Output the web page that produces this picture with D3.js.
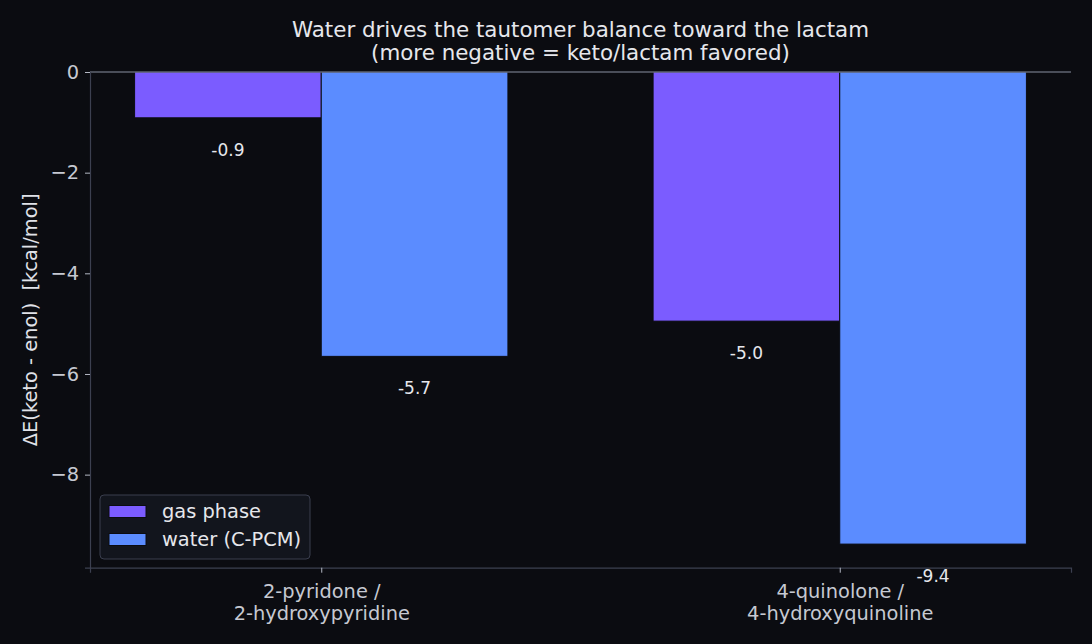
<!DOCTYPE html>
<html>
<head>
<meta charset="utf-8">
<script src="https://cdn.jsdelivr.net/npm/d3@7"></script>
<style>
  html, body { margin: 0; padding: 0; background: #0b0c11; }
  text { font-family: "DejaVu Sans", sans-serif; }
</style>
</head>
<body>
<div id="chart"></div>
<script>
// data
var categories = ["2-pyridone /\n2-hydroxypyridine", "4-quinolone /\n4-hydroxyquinoline"];
var seriesNames = ["gas phase", "water (C-PCM)"];
var gasValues = [-0.91, -4.95];
var waterValues = [-5.65, -9.38];
var yTicks = [0, -2, -4, -6, -8];

var chartWidth = 1092, chartHeight = 644;
var plotLeft = 90, plotRight = 1071, plotTop = 72, plotBottom = 567.7;
var barWidth = 0.36;
var colours = ["#7b5cff", "#5b8cff"];
var bg = "#0b0c11";

var rows = [];
categories.forEach(function(c, i) {
    rows.push({cat: i, series: 0, value: gasValues[i]});
    rows.push({cat: i, series: 1, value: waterValues[i]});
});

// scales
var xmin = -barWidth, xmax = categories.length - 1 + barWidth;
var xpad = (xmax - xmin) * 0.05;
var x_scale = d3.scaleLinear()
    .domain([xmin - xpad, xmax + xpad])
    .range([plotLeft, plotRight]);
var ymin = d3.min(rows, function(d) { return d.value; });
var y_scale = d3.scaleLinear()
    .domain([ymin * 1.05, 0])
    .range([plotBottom, plotTop]);

var svg = d3.select("#chart").append("svg")
    .attr("width", chartWidth)
    .attr("height", chartHeight)
    .style("background", bg);

// title
svg.append("text")
    .attr("x", (plotLeft + plotRight) / 2)
    .attr("text-anchor", "middle")
    .attr("fill", "#e6e7ec")
    .style("font-size", "21.4px")
    .selectAll("tspan")
    .data(["Water drives the tautomer balance toward the lactam",
           "(more negative = keto/lactam favored)"]).enter()
    .append("tspan")
    .attr("x", (plotLeft + plotRight) / 2)
    .attr("y", function(d, i) { return 37 + i * 23; })
    .text(function(d) { return d; });

// bars
svg.selectAll("rect.bar")
    .data(rows).enter()
    .append("rect")
    .attr("class", "bar")
    .attr("x", function(d) {
        return x_scale(d.cat + (d.series === 0 ? -barWidth : 0));
    })
    .attr("width", function(d) { return x_scale(barWidth) - x_scale(0); })
    .attr("y", y_scale(0))
    .attr("height", function(d) { return y_scale(d.value) - y_scale(0); })
    .attr("fill", function(d) { return colours[d.series]; })
    .attr("stroke", bg)
    .attr("stroke-width", 1);

// value labels
svg.selectAll("text.val")
    .data(rows).enter()
    .append("text")
    .attr("class", "val")
    .attr("x", function(d) {
        return x_scale(d.cat + (d.series === 0 ? -barWidth / 2 : barWidth / 2));
    })
    .attr("y", function(d) { return y_scale(d.value) + 38; })
    .attr("text-anchor", "middle")
    .attr("fill", "#e6e7ec")
    .style("font-size", "17px")
    .text(function(d) { return d.value.toFixed(1); });

// zero line
svg.append("line")
    .attr("x1", plotLeft).attr("x2", plotRight)
    .attr("y1", y_scale(0)).attr("y2", y_scale(0))
    .attr("stroke", "#8a90a2")
    .attr("stroke-width", 1.2);

// axes
var y_axis = d3.axisLeft(y_scale)
    .tickValues(yTicks)
    .tickSize(5)
    .tickPadding(6)
    .tickFormat(function(d) { return d === 0 ? "0" : "\u2212" + Math.abs(d); });
var gy = svg.append("g")
    .attr("transform", "translate(" + plotLeft + ",0)")
    .call(y_axis);
gy.select(".domain").attr("stroke", "#3c4050").attr("stroke-width", 1.2);
gy.selectAll(".tick line").attr("stroke", "#b4b8c4");
gy.selectAll(".tick text")
    .attr("fill", "#c6c9d2")
    .style("font-size", "19.4px")
    .style("font-family", "DejaVu Sans");

var x_axis = d3.axisBottom(x_scale)
    .tickValues(d3.range(categories.length))
    .tickSize(5)
    .tickFormat("");
var gx = svg.append("g")
    .attr("transform", "translate(0," + plotBottom + ")")
    .call(x_axis);
gx.select(".domain").attr("stroke", "#3c4050").attr("stroke-width", 1.2);
gx.selectAll(".tick line").attr("stroke", "#b4b8c4");
gx.selectAll(".tick").append("text")
    .attr("text-anchor", "middle")
    .attr("fill", "#c6c9d2")
    .style("font-size", "19.4px")
    .style("font-family", "DejaVu Sans")
    .selectAll("tspan")
    .data(function(d) { return categories[d].split("\n"); }).enter()
    .append("tspan")
    .attr("x", 0)
    .attr("y", function(d, i) { return 30 + i * 22; })
    .text(function(d) { return d; });

// y label
svg.append("text")
    .attr("transform", "translate(37," + (plotTop + plotBottom) / 2 + ") rotate(-90)")
    .attr("text-anchor", "middle")
    .attr("fill", "#e0e2e8")
    .style("font-size", "19.4px")
    .style("white-space", "pre")
    .text("\u0394E(keto - enol)  [kcal/mol]");

// legend
var legend = svg.append("g").attr("transform", "translate(100,495)");
legend.append("rect")
    .attr("width", 210).attr("height", 64)
    .attr("rx", 4)
    .attr("fill", "#12151d")
    .attr("stroke", "#3a3e4e")
    .attr("stroke-width", 1);
seriesNames.forEach(function(name, i) {
    legend.append("rect")
        .attr("x", 9).attr("y", 10.5 + i * 28)
        .attr("width", 37).attr("height", 12)
        .attr("fill", colours[i])
        .attr("stroke", bg)
        .attr("stroke-width", 1);
    legend.append("text")
        .attr("x", 62).attr("y", 23 + i * 28)
        .attr("fill", "#e6e7ec")
        .style("font-size", "19.4px")
        .text(name);
});
</script>
</body>
</html>
